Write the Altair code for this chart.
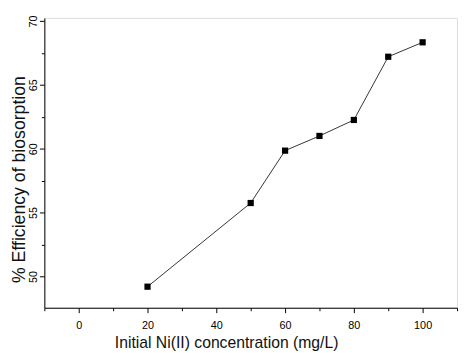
import altair as alt
import pandas as pd

conc = [20, 50, 60, 70, 80, 90, 100]
efficiency = [49.2, 55.75, 59.85, 61.0, 62.25, 67.2, 68.33]

x_ticks = [-10, 0, 10, 20, 30, 40, 50, 60, 70, 80, 90, 100, 110]
y_ticks = [47.5, 50, 52.5, 55, 57.5, 60, 62.5, 65, 67.5, 70]

df = pd.DataFrame({"conc": conc, "eff": efficiency})

FONT = "Liberation Sans"
xscale = alt.Scale(domain=[-10, 110], nice=False, zero=False)
yscale = alt.Scale(domain=[47.55, 70.24], nice=False, zero=False)

x_minor_test = "datum.value % 20 != 0"
y_minor_test = "datum.value % 5 != 0"

xaxis = alt.Axis(values=x_ticks, title="Initial Ni(II) concentration (mg/L)",
                 labelExpr=f"({x_minor_test}) ? '' : datum.label",
                 tickSize={"condition": {"test": x_minor_test, "value": 3}, "value": 5},
                 grid=False, labelPadding=7, labelFontSize=11, labelOverlap=False,
                 labelFlush=False,
                 titleFontSize=16, titleFontWeight="normal", titleX=185, titleY=40,
                 titleBaseline="alphabetic",
                 domainColor="black", tickColor="black", labelColor="black",
                 titleColor="#111111", labelFont=FONT, titleFont=FONT)

yaxis = alt.Axis(values=y_ticks, title="% Efficiency of biosorption",
                 labelExpr=f"({y_minor_test}) ? '' : datum.label",
                 tickSize={"condition": {"test": y_minor_test, "value": 3}, "value": 5},
                 labelAngle=270, labelAlign="center", labelBaseline="alphabetic",
                 grid=False, labelPadding=3, labelFontSize=11, labelOverlap=False,
                 titleFontSize=18, titleFontWeight="normal", titleX=-20, titleY=164,
                 titleAngle=270, titleAlign="center", titleBaseline="alphabetic",
                 domainColor="black", tickColor="black", labelColor="black",
                 titleColor="#111111", labelFont=FONT, titleFont=FONT)

base = alt.Chart(df).encode(
    x=alt.X("conc:Q", scale=xscale, axis=xaxis),
    y=alt.Y("eff:Q", scale=yscale, axis=yaxis),
)

line = base.mark_line(color="#333333", strokeWidth=1)
points = base.mark_square(color="black", size=40, opacity=1)

chart = alt.layer(line, points).properties(
    width=420, height=295,
    autosize=alt.AutoSizeParams(type="none"),
    padding={"left": 37, "top": 7, "right": 1, "bottom": 45},
).configure_view(stroke=None).configure(background="white")

chart.save("out.html", embed_options={"renderer": "svg", "actions": False})
